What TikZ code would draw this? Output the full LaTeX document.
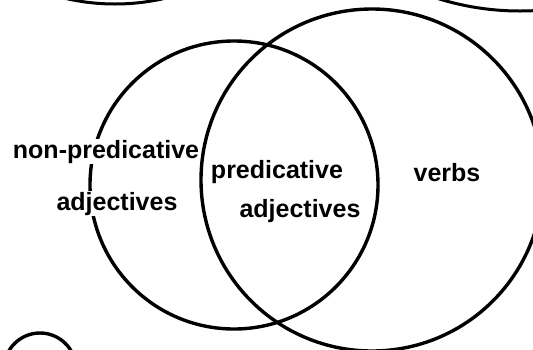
\documentclass[tikz,border=0pt]{standalone}
\usepackage{fontspec}
\setmainfont{Liberation Sans}
\begin{document}
\begin{tikzpicture}[x=1pt,y=-1pt,
  ring/.style={line width=3.4pt,draw=black},
  lbl/.style={font=\fontsize{25}{29}\selectfont\bfseries,anchor=base,inner sep=0pt},
  cutlbl/.style={lbl,fill=white,inner sep=1pt}]
\useasboundingbox (0,0) rectangle (533,349);
\clip (0,0) rectangle (533,349);
% partial neighbouring circles
\draw[ring,line width=3pt] (115,-216) circle[radius=220];
\draw[ring,line width=3pt] (520,-264) circle[radius=275];
\draw[ring] (40,369) circle[radius=36];
% left circle
\draw[ring] (234,185) circle[radius=144];
\node[cutlbl] (np) at (106,158) {non-predicative};
\node[cutlbl] (nadj) at (117,210) {adjectives};
% right circle
\draw[ring] (372,180) circle[radius=171];
\node[lbl] (pr) at (277,178) {predicative};
\node[lbl] (padj) at (300,217) {adjectives};
\node[lbl] (vb) at (447,181) {verbs};
\end{tikzpicture}
\end{document}
